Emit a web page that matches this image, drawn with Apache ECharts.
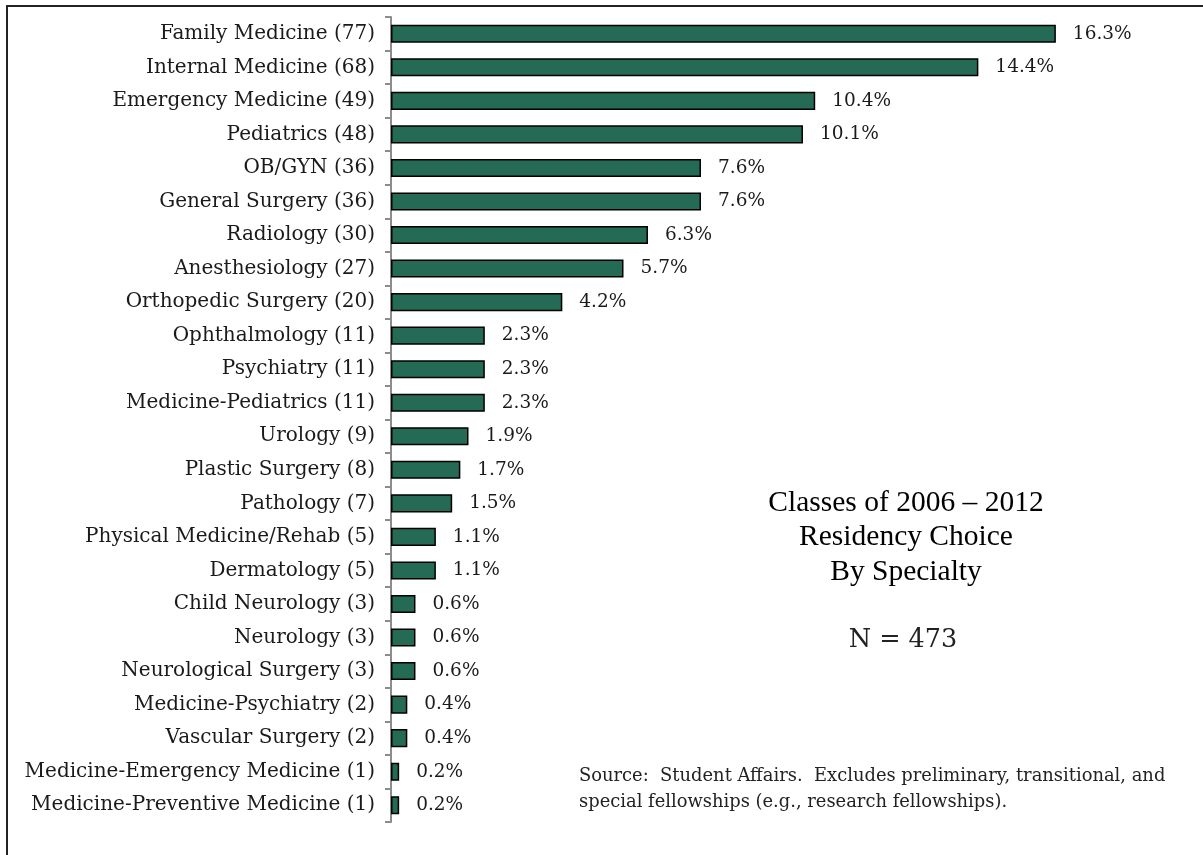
<!DOCTYPE html>
<html>
<head>
<meta charset="utf-8">
<script src="https://cdn.jsdelivr.net/npm/echarts@6/dist/echarts.min.js"></script>
<style>html,body{margin:0;padding:0;background:#fff;}#c{width:1203px;height:855px;}</style>
</head>
<body>
<div id="c"></div>
<script>
const categories = [
  "Family Medicine (77)", "Internal Medicine (68)", "Emergency Medicine (49)", "Pediatrics (48)",
  "OB/GYN (36)", "General Surgery (36)", "Radiology (30)", "Anesthesiology (27)",
  "Orthopedic Surgery (20)", "Ophthalmology (11)", "Psychiatry (11)", "Medicine-Pediatrics (11)",
  "Urology (9)", "Plastic Surgery (8)", "Pathology (7)", "Physical Medicine/Rehab (5)",
  "Dermatology (5)", "Child Neurology (3)", "Neurology (3)", "Neurological Surgery (3)",
  "Medicine-Psychiatry (2)", "Vascular Surgery (2)", "Medicine-Emergency Medicine (1)", "Medicine-Preventive Medicine (1)"
];
const percents = [16.3, 14.4, 10.4, 10.1, 7.6, 7.6, 6.3, 5.7, 4.2, 2.3, 2.3, 2.3, 1.9, 1.7, 1.5, 1.1, 1.1, 0.6, 0.6, 0.6, 0.4, 0.4, 0.2, 0.2];
const titleLines = ["Classes of 2006 – 2012", "Residency Choice", "By Specialty"];
const nText = "N = 473";
const sourceLines = ["Source:  Student Affairs.  Excludes preliminary, transitional, and", "special fellowships (e.g., research fellowships)."];

const serif = "'DejaVu Serif', serif";
const chart = echarts.init(document.getElementById('c'), null, {renderer: 'canvas'});
chart.setOption({
  animation: false,
  backgroundColor: '#fff',
  grid: {left: 391, top: 17, width: 775, height: 805, containLabel: false},
  xAxis: {type: 'value', min: 0, max: 19, show: false},
  yAxis: {
    type: 'category', data: categories, inverse: true,
    axisLine: {show: true, lineStyle: {color: '#8c8c8c', width: 2}},
    axisTick: {show: true, length: 6, lineStyle: {color: '#8c8c8c', width: 2}},
    axisLabel: {color: '#1a1a1a', fontFamily: serif, fontSize: 20, margin: 16}
  },
  series: [{
    type: 'bar', data: percents, barCategoryGap: '46%',
    itemStyle: {color: '#246a55', borderColor: '#000', borderWidth: 1.5},
    label: {show: true, position: 'right', distance: 17, color: '#1a1a1a', fontFamily: serif, fontSize: 18.5,
      formatter: p => p.value.toFixed(1) + '%'}
  }],
  graphic: [
    {type: 'polyline', shape: {points: [[7, 860], [7, 6], [1210, 6]]}, style: {stroke: '#222', lineWidth: 2, fill: null}},
    ...titleLines.map((t, i) => ({type: 'text', x: 906, y: 503 + i * 34.5,
      style: {text: t, fill: '#000', font: "29.5px 'Liberation Serif', serif", align: 'center', verticalAlign: 'middle'}})),
    {type: 'text', x: 903, y: 640, style: {text: nText, fill: '#222', font: "25.5px 'DejaVu Serif', serif", align: 'center', verticalAlign: 'middle'}},
    ...sourceLines.map((t, i) => ({type: 'text', x: 579, y: 776 + i * 26,
      style: {text: t, fill: '#222', font: "17.9px 'DejaVu Serif', serif", align: 'left', verticalAlign: 'middle'}}))
  ]
});
</script>
</body>
</html>
